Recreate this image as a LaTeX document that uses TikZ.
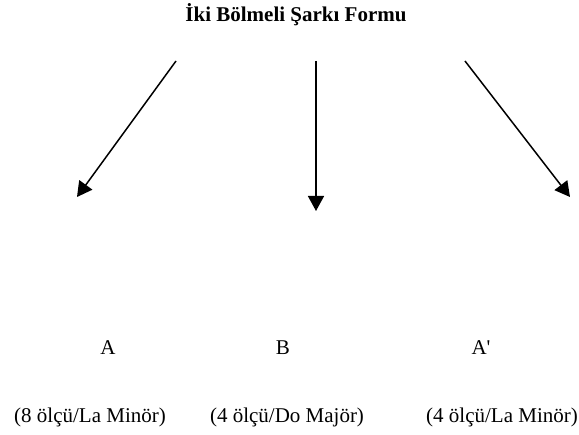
\documentclass[tikz,border=0pt]{standalone}
\usepackage{fontspec}
\setmainfont{Liberation Serif}
\newfontfamily\plainserif{Liberation Serif}
\usetikzlibrary{arrows.meta}
\tikzset{
  lbl/.style={anchor=base, inner sep=0pt, font=\fontsize{21}{25}\selectfont},
  ttl/.style={anchor=base, inner sep=0pt, font=\fontsize{21}{25}\selectfont\bfseries},
  arr/.style={line width=1.5pt, -{Triangle[length=15pt,width=16pt]}}
}
\begin{document}
\begin{tikzpicture}[x=1pt,y=-1pt]
\useasboundingbox (0,0) rectangle (579,435);
\node[ttl] (title) at (296,22) {İki Bölmeli Şarkı Formu};
\coordinate (l0) at (176,61);
\coordinate (l1) at (77,197);
\coordinate (m0) at (316,61);
\coordinate (m1) at (316,211);
\coordinate (r0) at (465,61);
\coordinate (r1) at (570,197);
\draw[arr] (l0) -- (l1);
\draw[arr] (m0) -- (m1);
\draw[arr] (r0) -- (r1);
\node[lbl] (A) at (108,355) {A};
\node[lbl] (B) at (283,355) {B};
\node[lbl] (A2) at (481,355) {\plainserif A'};
\node[lbl] (tA) at (90,423) {(8 ölçü/La Minör)};
\node[lbl] (tB) at (287,423) {(4 ölçü/Do Majör)};
\node[lbl] (tA2) at (502,423) {(4 ölçü/La Minör)};
\end{tikzpicture}
\end{document}
